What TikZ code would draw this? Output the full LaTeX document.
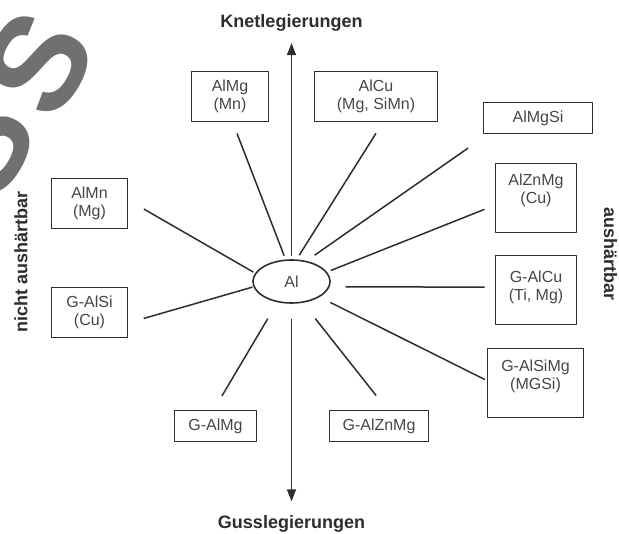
\documentclass[tikz,border=0pt]{standalone}
\usepackage{fontspec}
\setmainfont{Liberation Sans}
\usetikzlibrary{arrows.meta,shapes.geometric}
\definecolor{inkgray}{RGB}{45,45,45}
\definecolor{textgray}{RGB}{70,70,70}
\definecolor{markgray}{RGB}{112,112,112}
\begin{document}
\begin{tikzpicture}[>={Triangle[length=12bp,width=9bp]},line join=bevel,
  box/.style={draw=inkgray,line width=1.6bp,inner sep=0pt,align=center,text=textgray,font=\fontsize{16bp}{18bp}\selectfont},
  hub/.style={ellipse,draw=inkgray,line width=1.6bp,inner sep=0pt,text=textgray,font=\fontsize{16bp}{18bp}\selectfont},
  spoke/.style={draw=inkgray,line width=1.5bp},
  heading/.style={inner sep=0pt,text=inkgray,font=\fontsize{18bp}{20bp}\selectfont\bfseries},
  wmark/.style={rotate=60,text=markgray,inner sep=0pt,font=\fontsize{135bp}{135bp}\selectfont\bfseries}]
%%
\useasboundingbox (0bp,0bp) rectangle (619bp,534bp);
\node (node_mark_a) at (38bp,471bp) [wmark] {S};
  \node (node_mark_b) at (-20bp,389bp) [wmark] {S};
%
\node (node_al) at (291.5bp,252.5bp) [hub,minimum width=77bp,minimum height=43bp] {Al};
  \node (node_knet) at (291.5bp,511.5bp) [heading] {Knetlegierungen};
  \node (node_guss) at (291.5bp,10bp) [heading] {Gusslegierungen};
  \node (node_nicht) at (21bp,272bp) [heading,rotate=90] {nicht aushärtbar};
  \node (node_aush) at (610.5bp,280bp) [heading,rotate=-90] {aushärtbar};
%
\node (node_almg) at (230bp,437.5bp) [box,minimum width=77bp,minimum height=50bp] {AlMg\\(Mn)};
  \node (node_alcu) at (376bp,437.5bp) [box,minimum width=123bp,minimum height=50bp] {AlCu\\(Mg, SiMn)};
  \node (node_almgsi) at (538bp,416bp) [box,minimum width=109bp,minimum height=31bp] {AlMgSi};
  \node (node_alznmg) at (536bp,336bp) [box,minimum width=81bp,minimum height=69bp,text depth=19bp] {AlZnMg\\(Cu)};
  \node (node_almn) at (89.5bp,330.5bp) [box,minimum width=76bp,minimum height=50bp] {AlMn\\(Mg)};
  \node (node_galsi) at (89.5bp,221.5bp) [box,minimum width=76bp,minimum height=50bp] {G-AlSi\\(Cu)};
  \node (node_galcu) at (536bp,244bp) [box,minimum width=81bp,minimum height=69bp,text depth=9bp] {G-AlCu\\(Ti, Mg)};
  \node (node_galsimg) at (535.5bp,151bp) [box,minimum width=96bp,minimum height=69bp,text depth=17bp] {G-AlSiMg\\(MGSi)};
  \node (node_galmg) at (215.5bp,108bp) [box,minimum width=82bp,minimum height=31bp] {G-AlMg};
  \node (node_galznmg) at (379bp,108bp) [box,minimum width=99bp,minimum height=31bp] {G-AlZnMg};
%
\draw [spoke,->,shorten <=3bp,shorten >=12bp] (node_al.north) -- (node_knet.south);
  \draw [spoke,->,shorten <=15bp,shorten >=14bp] (node_al.south) -- (node_guss.north);
%
\draw [spoke,shorten <=18bp,shorten >=2bp] (node_almn.5) -- (node_al.167);
  \draw [spoke,shorten <=16bp,shorten >=1bp] (node_galsi.345) -- (node_al.188);
  \draw [spoke,shorten <=12bp,shorten >=4bp] (node_almg.276) -- (node_al.105);
  \draw [spoke,shorten <=13bp,shorten >=5bp] (node_alcu.285) -- (node_al.77);
  \draw [spoke,shorten <=24bp,shorten >=10bp] (node_almgsi.198) -- (node_al.54);
  \draw [spoke,shorten <=11bp,shorten >=4bp] (node_alznmg.190) -- (node_al.15);
  \draw [spoke,shorten <=10bp,shorten >=16bp] (node_galcu.176) -- (node_al.352);
  \draw [spoke,shorten <=2bp,shorten >=12bp] (node_galsimg.177) -- (node_al.331);
  \draw [spoke,shorten <=16bp,shorten >=19bp] (node_galmg.96) -- (node_al.236);
  \draw [spoke,shorten <=18bp,shorten >=20bp] (node_galznmg.63) -- (node_al.298);
%
\end{tikzpicture}
\end{document}
